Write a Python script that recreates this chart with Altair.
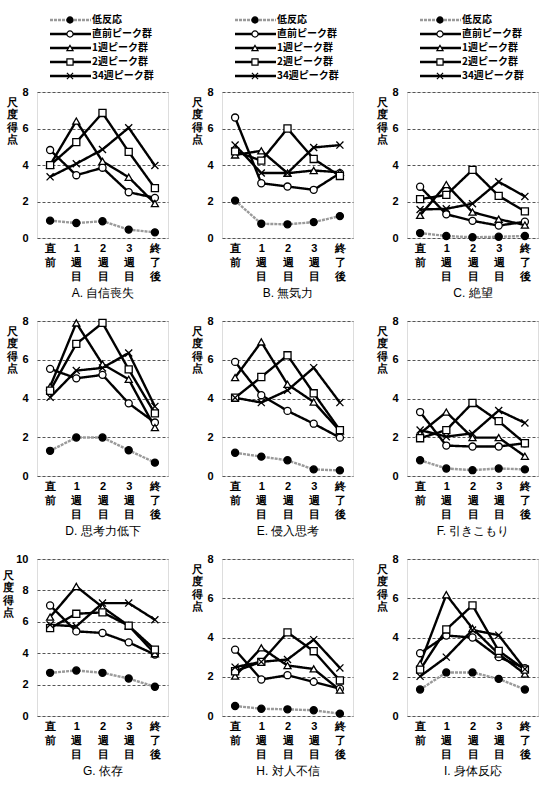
import altair as alt
import pandas as pd

time_labels = ["直前", "1週目", "2週目", "3週目", "終了後"]
series_names = ["低反応", "直前ピーク群", "1週ピーク群", "2週ピーク群", "34週ピーク群"]
panel_titles = ["A. 自信喪失", "B. 無気力", "C. 絶望",
                "D. 思考力低下", "E. 侵入思考", "F. 引きこもり",
                "G. 依存", "H. 対人不信", "I. 身体反応"]
panel_ymax = [8, 8, 8, 8, 8, 8, 10, 8, 8]

# values per panel: rows = series (same order as series_names), cols = time points
A_vals = [[0.95, 0.82, 0.92, 0.46, 0.31],
          [4.82, 3.44, 3.85, 2.51, 2.20],
          [4.00, 6.41, 4.20, 3.33, 1.89],
          [3.99, 5.25, 6.85, 4.72, 2.73],
          [3.35, 4.07, 4.85, 6.04, 3.97]]
B_vals = [[2.05, 0.78, 0.75, 0.87, 1.20],
          [6.60, 3.00, 2.82, 2.64, 3.55],
          [4.55, 4.78, 3.55, 3.70, 3.60],
          [4.75, 4.24, 6.00, 4.33, 3.40],
          [5.09, 3.56, 3.56, 4.96, 5.09]]
C_vals = [[0.27, 0.11, 0.04, 0.07, 0.11],
          [2.81, 1.30, 0.94, 0.68, 0.89],
          [1.24, 2.93, 1.42, 1.03, 0.71],
          [2.13, 2.36, 3.73, 2.31, 1.46],
          [1.56, 1.60, 1.88, 3.08, 2.28]]
D_vals = [[1.30, 1.99, 1.99, 1.33, 0.69],
          [5.53, 5.04, 5.22, 3.75, 2.76],
          [4.61, 7.90, 5.77, 4.99, 2.50],
          [4.40, 6.82, 7.90, 5.50, 3.23],
          [4.06, 5.44, 5.58, 6.35, 3.59]]
E_vals = [[1.20, 1.00, 0.81, 0.34, 0.29],
          [5.89, 4.17, 3.36, 2.70, 1.98],
          [5.08, 6.92, 4.73, 3.82, 2.32],
          [4.04, 5.11, 6.23, 4.27, 2.37],
          [4.04, 3.79, 4.42, 5.59, 3.79]]
F_vals = [[0.81, 0.39, 0.30, 0.39, 0.34],
          [3.30, 1.57, 1.52, 1.52, 1.69],
          [2.20, 3.30, 1.98, 1.98, 1.02],
          [1.95, 2.37, 3.77, 2.83, 1.69],
          [2.37, 2.03, 2.20, 3.38, 2.74]]
G_vals = [[2.75, 2.90, 2.75, 2.39, 1.86],
          [7.04, 5.39, 5.29, 4.69, 3.91],
          [6.30, 8.25, 6.93, 5.75, 3.97],
          [5.60, 6.51, 6.60, 5.75, 4.23],
          [5.81, 5.71, 7.19, 7.19, 6.13]]
H_vals = [[0.51, 0.37, 0.34, 0.29, 0.12],
          [3.38, 1.86, 2.08, 1.74, 1.39],
          [2.03, 3.47, 2.57, 2.40, 1.32],
          [2.28, 2.76, 4.26, 3.30, 1.81],
          [2.49, 2.76, 2.88, 3.89, 2.45]]
I_vals = [[1.35, 2.22, 2.22, 1.89, 1.35],
          [3.20, 4.10, 4.00, 3.00, 2.44],
          [2.66, 6.18, 4.46, 3.16, 2.14],
          [2.36, 4.41, 5.64, 3.32, 2.36],
          [2.02, 3.00, 4.38, 4.12, 2.39]]

all_vals = [A_vals, B_vals, C_vals, D_vals, E_vals, F_vals, G_vals, H_vals, I_vals]

FONT = "Noto Sans CJK JP"
X_PATH = "M-1,-1L1,1M-1,1L1,-1"

color_scale = alt.Scale(domain=series_names, range=["#9a9a9a", "black", "black", "black", "black"])
dash_scale = alt.Scale(domain=series_names, range=[[3, 1], [1, 0], [1, 0], [1, 0], [1, 0]])
shape_scale = alt.Scale(domain=series_names, range=["circle", "circle", "triangle-up", "square", X_PATH])
fill_scale = alt.Scale(domain=series_names, range=["black", "white", "white", "white", "white"])

row_heights = [146, 155, 157]
PW = 131


def make_panel(idx, legend):
    vals = all_vals[idx]
    ymax = panel_ymax[idx]
    h = row_heights[idx // 3]
    rows = []
    for s, series in enumerate(series_names):
        for t, tl in enumerate(time_labels):
            rows.append({"series": series, "time": tl, "value": vals[s][t], "order": s})
    df = pd.DataFrame(rows)

    x = alt.X("time:N", sort=time_labels,
              scale=alt.Scale(type="point", domain=time_labels, padding=0.5),
              axis=alt.Axis(title=panel_titles[idx], labelExpr="split(datum.label, '')",
                            labelAngle=0, labelBaseline="top", labelLineHeight=14,
                            labelPadding=4, labelFontSize=11, labelFontWeight="bold",
                            labelOverlap=False,
                            ticks=False, domain=False, grid=False,
                            titleFontSize=12, titleFontWeight="normal", titlePadding=6))
    y = alt.Y("value:Q", scale=alt.Scale(domain=[0, ymax], nice=False),
              axis=alt.Axis(values=list(range(0, ymax + 1, 2)),
                            title=["尺", "度", "得", "点"], titleAngle=0,
                            titleAlign="center", titleBaseline="top",
                            titleX=-25 if ymax < 10 else -29,
                            titleY=4 if ymax < 10 else 10,
                            titleLineHeight=12.5,
                            titleFontSize=11, titleFontWeight="bold",
                            ticks=False, domain=False, labelPadding=9,
                            labelFontSize=11, labelFontWeight="bold",
                            grid=True, gridDash=[3, 2],
                            gridColor="#555", gridWidth=1))
    lines = alt.Chart(df).mark_line(strokeWidth=2.4).encode(
        x=x, y=y,
        color=alt.Color("series:N", scale=color_scale, legend=None),
        strokeDash=alt.StrokeDash("series:N", scale=dash_scale, legend=None),
        detail="series:N",
        order="order:Q",
    )
    pts = alt.Chart(df).mark_point(filled=True, stroke="black", strokeWidth=1.3,
                                   size=50, opacity=1).encode(
        x=x, y=y,
        shape=alt.Shape("series:N", scale=shape_scale, legend=None),
        fill=alt.Fill("series:N", scale=fill_scale, legend=None),
    )
    data_layer = alt.layer(lines, pts)
    if legend:
        leg_df = pd.DataFrame({"series": series_names})
        ly = alt.Y("series:N",
                   scale=alt.Scale(type="point", domain=series_names, range=[-72, -16], padding=0),
                   axis=None)
        rule = alt.Chart(leg_df).mark_rule(strokeWidth=2.4).encode(
            x=alt.value(13), x2=alt.value(54), y=ly,
            color=alt.Color("series:N", scale=color_scale, legend=None),
            strokeDash=alt.StrokeDash("series:N", scale=dash_scale, legend=None),
        )
        lp = alt.Chart(leg_df).mark_point(filled=True, stroke="black", strokeWidth=1.2,
                                          size=38, opacity=1).encode(
            x=alt.value(33), y=ly,
            shape=alt.Shape("series:N", scale=shape_scale, legend=None),
            fill=alt.Fill("series:N", scale=fill_scale, legend=None),
        )
        lt = alt.Chart(leg_df).mark_text(align="left", baseline="middle", fontSize=10,
                                         font=FONT, fontWeight="bold").encode(
            x=alt.value(55), y=ly, text="series:N",
        )
        layer = alt.layer(data_layer, alt.layer(rule, lp, lt)).resolve_scale(y="independent")
    else:
        layer = data_layer
    return layer.properties(width=PW, height=h)


rows = []
for r in range(3):
    rows.append(alt.hconcat(*[make_panel(r * 3 + c, r == 0) for c in range(3)], spacing=22))

chart = alt.vconcat(*rows, spacing=15).properties(
    padding={"left": 2, "top": 14, "right": 2, "bottom": 2}
).configure_view(
    stroke="#555", strokeWidth=1.5
).configure_axis(
    labelFont=FONT, titleFont=FONT, labelColor="black", titleColor="black"
).configure(background="white")

chart.save("out.html", embed_options={"renderer": "svg", "actions": False})
